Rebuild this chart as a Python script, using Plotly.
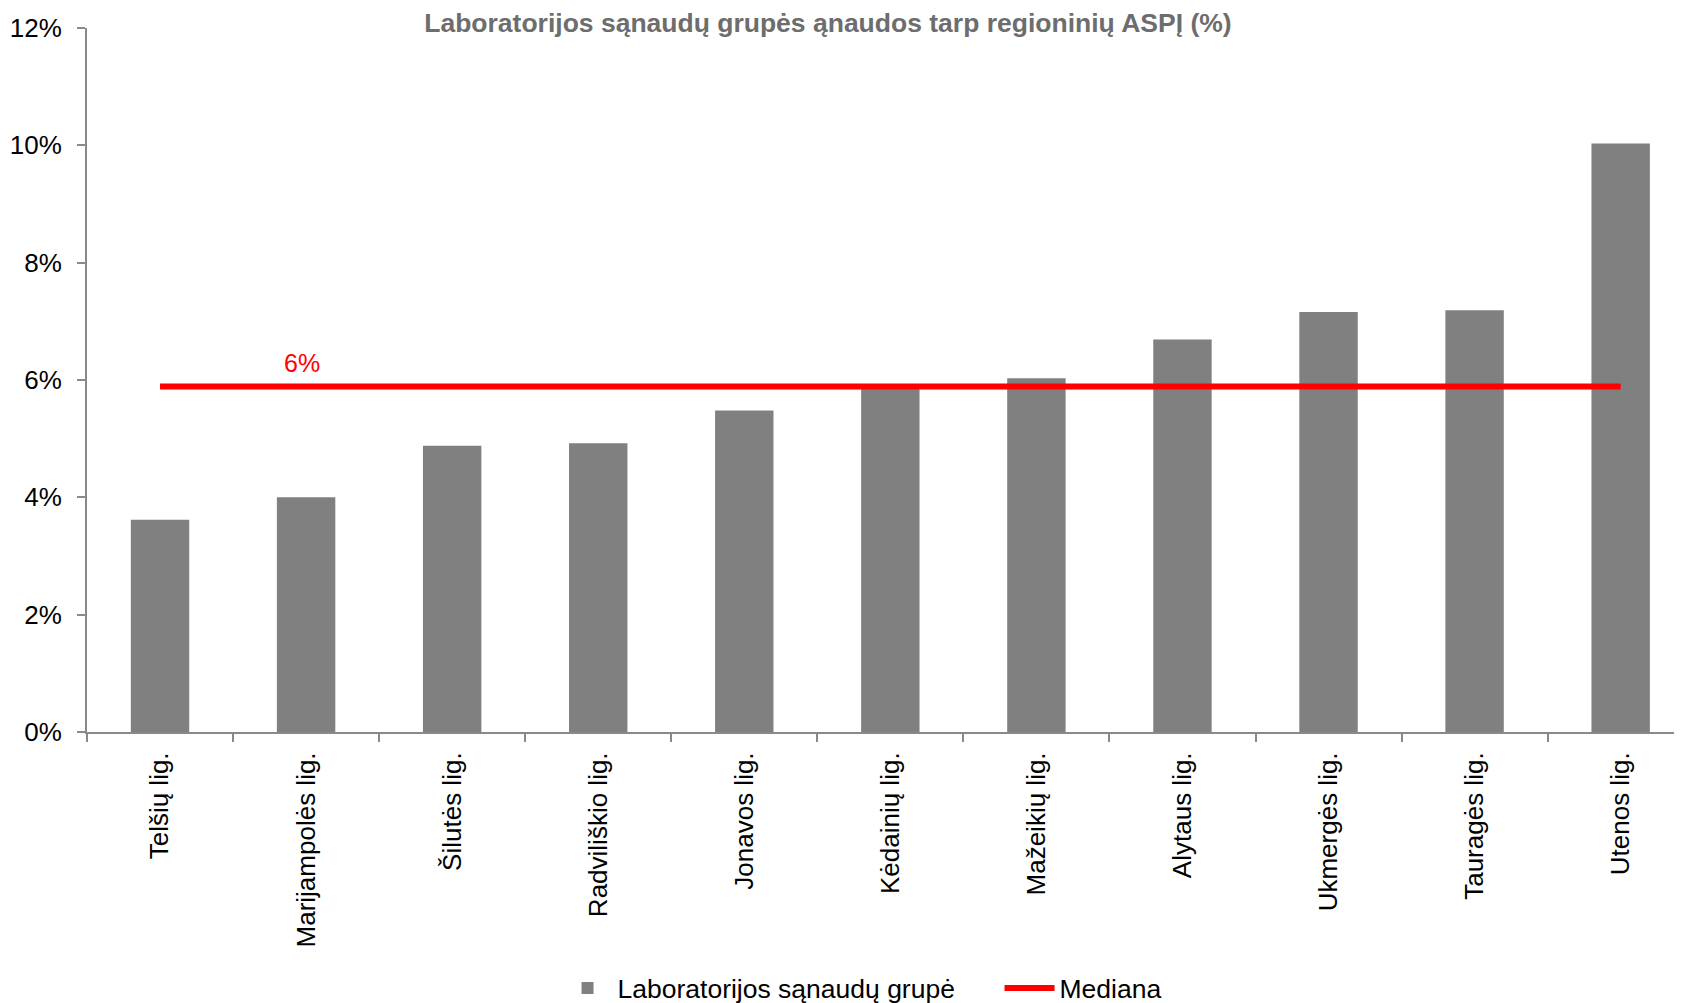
import plotly.graph_objects as go

# data
categories = [
    "Telšių lig.", "Marijampolės lig.", "Šilutės lig.", "Radviliškio lig.",
    "Jonavos lig.", "Kėdainių lig.", "Mažeikių lig.", "Alytaus lig.",
    "Ukmergės lig.", "Tauragės lig.", "Utenos lig.",
]
shares = [0.0362, 0.0400, 0.0488, 0.0492, 0.0548, 0.0589, 0.0603, 0.0669, 0.0716, 0.0719, 0.1003]
median = 0.0589

TITLE = "Laboratorijos sąnaudų grupės ąnaudos tarp regioninių ASPĮ (%)"
BAR_NAME = "Laboratorijos sąnaudų grupė"
LINE_NAME = "Mediana"

COL_BAR = "#808080"
COL_MEDIAN = "#FF0000"
COL_AXIS = "#898989"
FONT = "Liberation Sans, Arial, sans-serif"

fig = go.Figure()
fig.add_trace(go.Bar(
    x=categories, y=shares, name=BAR_NAME,
    marker={"color": COL_BAR, "line": {"width": 0}}, width=0.4,
))
fig.add_trace(go.Scatter(
    x=[categories[0], categories[-1]], y=[median, median], mode="lines",
    name=LINE_NAME, line={"color": COL_MEDIAN, "width": 6},
))

# median label above the line
fig.add_annotation(
    x=categories[1], y=median, text=f"{median:.0%}", showarrow=False,
    yanchor="bottom", yshift=7, xshift=-4,
    font={"color": COL_MEDIAN, "size": 25, "family": FONT},
)

# the page body adds an 8px offset, so the figure is sized to fit the window
fig.update_layout(
    width=1674, height=995,
    template="plotly_white",
    paper_bgcolor="#FFFFFF", plot_bgcolor="#FFFFFF",
    font={"family": FONT, "color": "#000000", "size": 26},
    title={
        "text": f"<b>{TITLE}</b>", "x": 0.4898, "xanchor": "center",
        "y": 0.985, "yanchor": "middle",
        "font": {"size": 26.5, "color": "#6D6D6D", "family": FONT},
    },
    margin={"l": 79, "r": 0, "t": 20, "b": 271, "autoexpand": False},
    showlegend=True,
    legend={
        "orientation": "h", "x": 0.295, "xanchor": "left",
        "y": -0.330, "yanchor": "top", "font": {"size": 26.5},
        "traceorder": "normal", "itemwidth": 50, "entrywidth": 377,
    },
    xaxis={
        "automargin": False, "range": [-0.5, 10.42],
        "showgrid": False, "showline": True, "linecolor": COL_AXIS, "linewidth": 2,
        "ticks": "outside", "tickson": "boundaries", "tickcolor": COL_AXIS,
        "ticklen": 8, "tickwidth": 2, "tickangle": -90, "ticklabelstandoff": 8,
        "tickfont": {"size": 26, "color": "#000000"},
    },
    yaxis={
        "automargin": False,
        "range": [0, 0.12], "dtick": 0.02, "tickformat": ".0%",
        "showgrid": False, "zeroline": False,
        "showline": True, "linecolor": COL_AXIS, "linewidth": 2,
        "ticks": "outside", "tickcolor": COL_AXIS, "ticklen": 8, "tickwidth": 2,
        "ticklabelstandoff": 10,
        "tickfont": {"size": 26, "color": "#000000"},
    },
)

fig.write_html("out.html")
